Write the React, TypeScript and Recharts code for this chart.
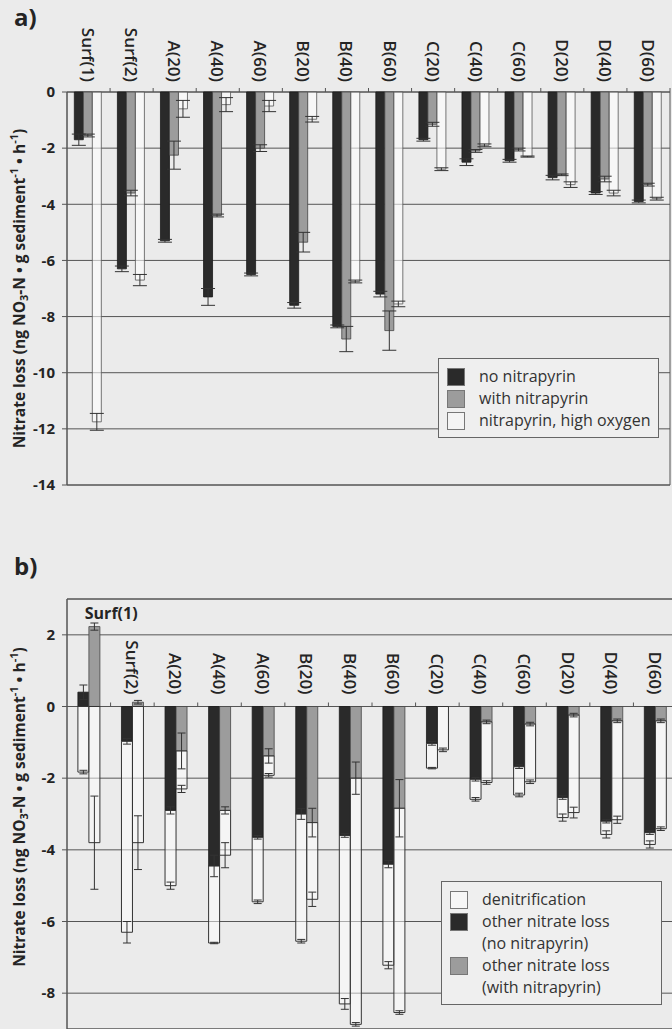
import React from 'react';
import { BarChart, Bar, XAxis, YAxis, CartesianGrid, ErrorBar, Legend, ReferenceArea, Label } from 'recharts';

const sites = ['Surf(1)', 'Surf(2)', 'A(20)', 'A(40)', 'A(60)', 'B(20)', 'B(40)', 'B(60)', 'C(20)', 'C(40)', 'C(60)', 'D(20)', 'D(40)', 'D(60)'];

// panel a: nitrate loss
const noNitrapyrin = [-1.7, -6.3, -5.3, -7.3, -6.5, -7.6, -8.35, -7.2, -1.7, -2.5, -2.45, -3.05, -3.6, -3.9];
const noNitrapyrinErr = [0.2, 0.1, 0.05, 0.3, 0.05, 0.1, 0.05, 0.1, 0.05, 0.12, 0.05, 0.08, 0.05, 0.05];
const withNitrapyrin = [-1.55, -3.6, -2.25, -4.4, -2.0, -5.35, -8.8, -8.5, -1.15, -2.1, -2.05, -2.95, -3.1, -3.3];
const withNitrapyrinErr = [0.05, 0.1, 0.5, 0.05, 0.12, 0.35, 0.45, 0.7, 0.07, 0.05, 0.05, 0.03, 0.1, 0.05];
const highOxygen = [-11.75, -6.7, -0.6, -0.45, -0.5, -0.97, -6.75, -7.55, -2.75, -1.9, -2.3, -3.3, -3.6, -3.8];
const highOxygenErr = [0.3, 0.2, 0.3, 0.25, 0.2, 0.1, 0.05, 0.1, 0.05, 0.05, 0.02, 0.1, 0.1, 0.05];
const ticksA = [0, -2, -4, -6, -8, -10, -12, -14];

// panel b: denitrification vs other loss (stacked)
const otherNo = [0.4, -0.97, -2.9, -4.45, -3.65, -3.0, -3.6, -4.4, -1.03, -2.03, -1.68, -2.54, -3.2, -3.52];
const otherNoErr = [0.2, 0.08, 0.1, 0.3, 0.05, 0.15, 0.05, 0.1, 0.05, 0.05, 0.05, 0.05, 0.05, 0.05];
const denitNo = [-1.83, -5.33, -2.1, -2.15, -1.8, -3.55, -4.7, -2.82, -0.69, -0.56, -0.79, -0.56, -0.37, -0.33];
const denitNoErr = [0.05, 0.3, 0.1, 0.02, 0.05, 0.05, 0.15, 0.1, 0.02, 0.05, 0.05, 0.1, 0.1, 0.1];
const otherWith = [2.23, 0.12, -1.24, -2.9, -1.38, -3.24, -2.0, -2.84, 0, -0.43, -0.49, -0.24, -0.4, -0.4];
const otherWithErr = [0.1, 0.05, 0.5, 0.1, 0.2, 0.4, 0.45, 0.8, 0.05, 0.05, 0.05, 0.05, 0.05, 0.05];
const denitWith = [-3.8, -3.8, -1.06, -1.25, -0.54, -2.14, -6.87, -5.7, -1.21, -1.69, -1.61, -2.72, -2.76, -3.01];
const denitWithErr = [1.3, 0.75, 0.1, 0.35, 0.05, 0.2, 0.05, 0.05, 0.05, 0.05, 0.05, 0.15, 0.1, 0.05];
const ticksB = [2, 0, -2, -4, -6, -8];

const legendA = [
  { label: ['no nitrapyrin'], color: '#2a2a2a' },
  { label: ['with nitrapyrin'], color: '#9c9c9c' },
  { label: ['nitrapyrin, high oxygen'], color: '#f4f4f4' },
];
const legendB = [
  { label: ['denitrification'], color: '#f6f6f6' },
  { label: ['other nitrate loss', '(no nitrapyrin)'], color: '#2a2a2a' },
  { label: ['other nitrate loss', '(with nitrapyrin)'], color: '#9c9c9c' },
];

const dataA = sites.map((site, i) => ({
  site,
  no: noNitrapyrin[i],
  noErr: noNitrapyrinErr[i],
  with: withNitrapyrin[i],
  withErr: withNitrapyrinErr[i],
  high: highOxygen[i],
  highErr: highOxygenErr[i],
}));

const dataB = sites.map((site, i) => ({
  site,
  otherNo: otherNo[i],
  otherNoErr: otherNoErr[i],
  denitNo: denitNo[i],
  denitNoErr: denitNoErr[i],
  otherWith: otherWith[i],
  otherWithErr: otherWithErr[i],
  denitWith: denitWith[i],
  denitWithErr: denitWithErr[i],
}));

const FONT = '"Open Sans", "Noto Sans", sans-serif';
const INK = '#242424';
const BG = '#ebebeb';
const GRID = '#555';
const Y_W = 67;
const X_H = 2;

const A = { w: 672, h: 500, margin: { top: 90, right: 2, left: 0, bottom: 15 }, domain: [-14, 0] };
const B = { w: 680, h: 475, margin: { top: 37, right: 3, left: 0, bottom: 6 }, domain: [-9, 3] };

const zeroY = (c: typeof A) => {
  const top = c.margin.top + X_H;
  const plotH = c.h - top - c.margin.bottom;
  return top + (c.domain[1] / (c.domain[1] - c.domain[0])) * plotH;
};
const bandW = (c: typeof A) => (c.w - Y_W - c.margin.left - c.margin.right) / sites.length;

const makeTick = (c: typeof A, gap: number, flatFirst: boolean) => (props: any) => {
  const { x, payload, index } = props;
  const y0 = zeroY(c);
  const bw = bandW(c);
  const ly = y0 - gap;
  return (
    <g>
      <line x1={x + bw / 2} x2={x + bw / 2} y1={y0} y2={y0 - 4} stroke={GRID} strokeWidth={1} />
      {flatFirst && index === 0 ? (
        <text x={x - 4} y={c.margin.top + X_H + 20} fontFamily={FONT} fontSize={16} fontWeight={700} fill={INK}>
          {payload.value}
        </text>
      ) : (
        <text
          x={x}
          y={ly}
          transform={`rotate(90, ${x}, ${ly})`}
          textAnchor="end"
          dominantBaseline="central"
          fontFamily={FONT}
          fontSize={17}
          fontWeight={600}
          fill={INK}
        >
          {payload.value}
        </text>
      )}
    </g>
  );
};

const AxisTitle = (props: any) => {
  const { viewBox, shift = 0 } = props;
  const cx = viewBox.x + 19;
  const cy = viewBox.y + viewBox.height / 2 + shift;
  return (
    <text
      x={cx}
      y={cy}
      transform={`rotate(-90, ${cx}, ${cy})`}
      textAnchor="middle"
      dominantBaseline="central"
      fontFamily={FONT}
      fontSize={15.5}
      fontWeight={700}
      fill={INK}
    >
      Nitrate loss (ng NO<tspan dy={4} fontSize={11}>3</tspan>
      <tspan dy={-4}>-N • g sediment</tspan>
      <tspan dy={-6} fontSize={11}>-1</tspan>
      <tspan dy={6}> • h</tspan>
      <tspan dy={-6} fontSize={11}>-1</tspan>
      <tspan dy={6}>)</tspan>
    </text>
  );
};

const LegendBox = ({ items }: { items: { label: string[]; color: string }[] }) => (
  <div
    style={{
      border: '1px solid #666',
      background: '#efefef',
      padding: '6px 0 6px 8px',
      fontFamily: FONT,
      fontSize: 16,
      lineHeight: '22px',
      color: '#333',
      boxSizing: 'border-box',
    }}
  >
    {items.map((it) => (
      <div key={it.label.join()} style={{ display: 'flex', alignItems: 'flex-start' }}>
        <div
          style={{
            width: 16,
            height: 16,
            marginTop: 3,
            background: it.color,
            border: '1px solid #777',
            marginRight: 14,
            flexShrink: 0,
          }}
        />
        <div>
          {it.label.map((l) => (
            <div key={l}>{l}</div>
          ))}
        </div>
      </div>
    ))}
  </div>
);

const yTick = { fontFamily: FONT, fontSize: 15, fontWeight: 700, fill: INK };
const panelTag = { position: 'absolute' as const, left: 14, fontFamily: FONT, fontSize: 24, lineHeight: '28px', fontWeight: 700, color: INK };

export default function App() {
  return (
    <div
      style={{ position: 'absolute', left: 0, top: 0, width: 672, height: 1029, overflow: 'hidden', background: BG }}
    >
      <div style={{ ...panelTag, top: 3 }}>a)</div>
      <div style={{ ...panelTag, top: 552 }}>b)</div>

      <div style={{ position: 'absolute', left: 0, top: 0 }}>
        <BarChart width={A.w} height={A.h} data={dataA} margin={A.margin} barCategoryGap="17%" barGap={0}>
          <CartesianGrid vertical={false} stroke={GRID} strokeWidth={1} />
          <ReferenceArea y1={-14} y2={0} fill="none" stroke={GRID} strokeWidth={1} ifOverflow="visible" />
          <XAxis
            dataKey="site"
            orientation="top"
            height={X_H}
            axisLine={false}
            tickLine={false}
            interval={0}
            tick={makeTick(A, 10, false)}
          />
          <YAxis
            type="number"
            domain={A.domain}
            ticks={ticksA}
            width={Y_W}
            tick={yTick}
            tickSize={5}
            tickMargin={7}
            axisLine={{ stroke: GRID }}
            tickLine={{ stroke: GRID }}
          >
            <Label content={<AxisTitle />} />
          </YAxis>
          <Legend
            layout="horizontal"
            verticalAlign="middle"
            align="center"
            wrapperStyle={{ left: 438, top: 358, width: 221 }}
            content={() => <LegendBox items={legendA} />}
          />
          <Bar dataKey="no" name="no nitrapyrin" fill="#2a2a2a" stroke="#1a1a1a" strokeWidth={0.8} isAnimationActive={false}>
            <ErrorBar dataKey="noErr" width={7} stroke="#333" strokeWidth={1} />
          </Bar>
          <Bar dataKey="with" name="with nitrapyrin" fill="#9c9c9c" stroke="#444" strokeWidth={0.8} isAnimationActive={false}>
            <ErrorBar dataKey="withErr" width={7} stroke="#333" strokeWidth={1} />
          </Bar>
          <Bar
            dataKey="high"
            name="nitrapyrin, high oxygen"
            fill="#ffffff"
            fillOpacity={0.6}
            stroke="#555"
            strokeWidth={0.8}
            isAnimationActive={false}
          >
            <ErrorBar dataKey="highErr" width={7} stroke="#333" strokeWidth={1} />
          </Bar>
        </BarChart>
      </div>

      <div style={{ position: 'absolute', left: 0, top: 560 }}>
        <BarChart
          width={B.w}
          height={B.h}
          data={dataB}
          margin={B.margin}
          barCategoryGap="25%"
          barGap={0}
          stackOffset="sign"
        >
          <CartesianGrid vertical={false} stroke={GRID} strokeWidth={1} />
          <ReferenceArea y1={-9} y2={3} fill="none" stroke={GRID} strokeWidth={1} ifOverflow="visible" />
          <XAxis
            dataKey="site"
            orientation="top"
            height={X_H}
            axisLine={false}
            tickLine={false}
            interval={0}
            tick={makeTick(B, 12, true)}
          />
          <YAxis
            type="number"
            domain={B.domain}
            ticks={ticksB}
            width={Y_W}
            tick={yTick}
            tickSize={5}
            tickMargin={7}
            axisLine={{ stroke: GRID }}
            tickLine={{ stroke: GRID }}
          >
            <Label content={<AxisTitle shift={-7} />} />
          </YAxis>
          <Legend
            layout="horizontal"
            verticalAlign="middle"
            align="center"
            wrapperStyle={{ left: 441, top: 321, width: 221 }}
            content={() => <LegendBox items={legendB} />}
          />
          <Bar dataKey="otherNo" stackId="no" fill="#2a2a2a" stroke="#1a1a1a" strokeWidth={0.8} isAnimationActive={false}>
            <ErrorBar dataKey="otherNoErr" width={4} stroke="#333" strokeWidth={1} />
          </Bar>
          <Bar
            dataKey="denitNo"
            stackId="no"
            fill="#ffffff"
            fillOpacity={0.5}
            stroke="#333"
            strokeWidth={1}
            isAnimationActive={false}
          >
            <ErrorBar dataKey="denitNoErr" width={4} stroke="#333" strokeWidth={1} />
          </Bar>
          <Bar dataKey="otherWith" stackId="with" fill="#9c9c9c" stroke="#444" strokeWidth={0.8} isAnimationActive={false}>
            <ErrorBar dataKey="otherWithErr" width={4} stroke="#333" strokeWidth={1} />
          </Bar>
          <Bar
            dataKey="denitWith"
            stackId="with"
            fill="#ffffff"
            fillOpacity={0.5}
            stroke="#333"
            strokeWidth={1}
            isAnimationActive={false}
          >
            <ErrorBar dataKey="denitWithErr" width={4} stroke="#333" strokeWidth={1} />
          </Bar>
        </BarChart>
      </div>
    </div>
  );
}
